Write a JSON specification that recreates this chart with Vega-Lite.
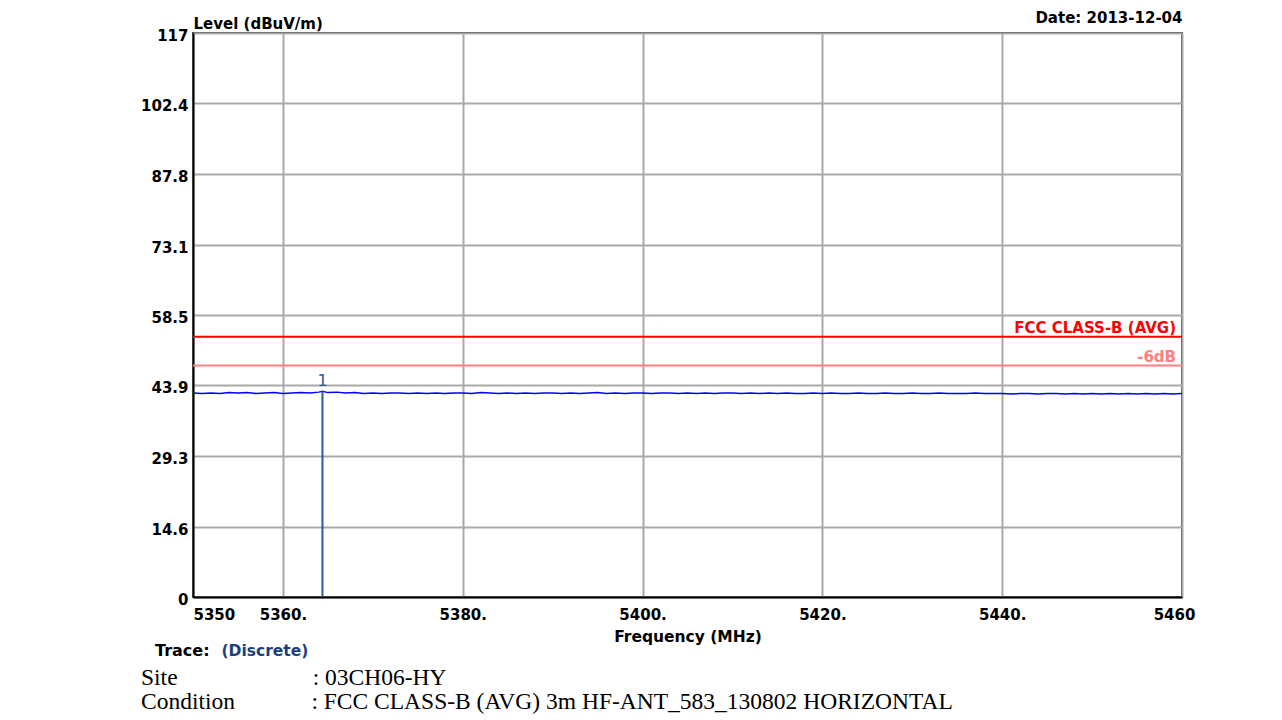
{
  "$schema": "https://vega.github.io/schema/vega-lite/v6.json",
  "width": 989,
  "height": 564,
  "autosize": {"type": "none"},
  "padding": {"left": 193, "top": 33, "right": 100, "bottom": 123},
  "background": "white",
  "config": {
    "view": {"stroke": "#404040", "strokeWidth": 2},
    "font": "DejaVu Sans"
  },
  "title": {
    "text": ["Site\u00a0\u00a0\u00a0\u00a0\u00a0\u00a0\u00a0\u00a0\u00a0\u00a0\u00a0\u00a0\u00a0\u00a0\u00a0\u00a0\u00a0\u00a0\u00a0\u00a0\u00a0\u00a0\u00a0: 03CH06-HY", "Condition\u00a0\u00a0\u00a0\u00a0\u00a0\u00a0\u00a0\u00a0\u00a0\u00a0\u00a0\u00a0\u00a0: FCC CLASS-B (AVG) 3m HF-ANT_583_130802 HORIZONTAL"],
    "orient": "bottom",
    "anchor": "start",
    "frame": "group",
    "dx": -52,
    "offset": 6,
    "font": "Liberation Serif",
    "fontSize": 23.5,
    "fontWeight": "normal",
    "color": "#000000",
    "lineHeight": 24
  },
  "datasets": {
    "trace": [
      {"freq": 5350, "level": 42.3}, {"freq": 5351, "level": 42.2}, {"freq": 5352, "level": 42.3}, {"freq": 5353, "level": 42.2},
      {"freq": 5354, "level": 42.4}, {"freq": 5355, "level": 42.3}, {"freq": 5356, "level": 42.4}, {"freq": 5357, "level": 42.2},
      {"freq": 5358, "level": 42.3}, {"freq": 5359, "level": 42.4}, {"freq": 5360, "level": 42.2}, {"freq": 5361, "level": 42.3},
      {"freq": 5362, "level": 42.4}, {"freq": 5363, "level": 42.3}, {"freq": 5364, "level": 42.5}, {"freq": 5364.4, "level": 42.7},
      {"freq": 5365, "level": 42.4}, {"freq": 5366, "level": 42.5}, {"freq": 5367, "level": 42.3}, {"freq": 5368, "level": 42.4},
      {"freq": 5369, "level": 42.2}, {"freq": 5370, "level": 42.3}, {"freq": 5371, "level": 42.2}, {"freq": 5372, "level": 42.3},
      {"freq": 5373, "level": 42.3}, {"freq": 5374, "level": 42.2}, {"freq": 5375, "level": 42.3}, {"freq": 5376, "level": 42.2},
      {"freq": 5377, "level": 42.3}, {"freq": 5378, "level": 42.2}, {"freq": 5379, "level": 42.3}, {"freq": 5380, "level": 42.3},
      {"freq": 5381, "level": 42.2}, {"freq": 5382, "level": 42.4}, {"freq": 5383, "level": 42.3}, {"freq": 5384, "level": 42.2},
      {"freq": 5385, "level": 42.3}, {"freq": 5386, "level": 42.2}, {"freq": 5387, "level": 42.3}, {"freq": 5388, "level": 42.2},
      {"freq": 5389, "level": 42.3}, {"freq": 5390, "level": 42.3}, {"freq": 5391, "level": 42.2}, {"freq": 5392, "level": 42.3},
      {"freq": 5393, "level": 42.2}, {"freq": 5394, "level": 42.3}, {"freq": 5395, "level": 42.4}, {"freq": 5396, "level": 42.2},
      {"freq": 5397, "level": 42.3}, {"freq": 5398, "level": 42.2}, {"freq": 5399, "level": 42.3}, {"freq": 5400, "level": 42.3},
      {"freq": 5401, "level": 42.2}, {"freq": 5402, "level": 42.3}, {"freq": 5403, "level": 42.3}, {"freq": 5404, "level": 42.2},
      {"freq": 5405, "level": 42.3}, {"freq": 5406, "level": 42.2}, {"freq": 5407, "level": 42.3}, {"freq": 5408, "level": 42.2},
      {"freq": 5409, "level": 42.3}, {"freq": 5410, "level": 42.3}, {"freq": 5411, "level": 42.2}, {"freq": 5412, "level": 42.3},
      {"freq": 5413, "level": 42.2}, {"freq": 5414, "level": 42.3}, {"freq": 5415, "level": 42.2}, {"freq": 5416, "level": 42.3},
      {"freq": 5417, "level": 42.2}, {"freq": 5418, "level": 42.2}, {"freq": 5419, "level": 42.3}, {"freq": 5420, "level": 42.2},
      {"freq": 5421, "level": 42.3}, {"freq": 5422, "level": 42.2}, {"freq": 5423, "level": 42.2}, {"freq": 5424, "level": 42.3},
      {"freq": 5425, "level": 42.2}, {"freq": 5426, "level": 42.2}, {"freq": 5427, "level": 42.3}, {"freq": 5428, "level": 42.2},
      {"freq": 5429, "level": 42.2}, {"freq": 5430, "level": 42.3}, {"freq": 5431, "level": 42.2}, {"freq": 5432, "level": 42.2},
      {"freq": 5433, "level": 42.3}, {"freq": 5434, "level": 42.2}, {"freq": 5435, "level": 42.2}, {"freq": 5436, "level": 42.2},
      {"freq": 5437, "level": 42.3}, {"freq": 5438, "level": 42.2}, {"freq": 5439, "level": 42.2}, {"freq": 5440, "level": 42.2},
      {"freq": 5441, "level": 42.1}, {"freq": 5442, "level": 42.2}, {"freq": 5443, "level": 42.2}, {"freq": 5444, "level": 42.1},
      {"freq": 5445, "level": 42.2}, {"freq": 5446, "level": 42.2}, {"freq": 5447, "level": 42.1}, {"freq": 5448, "level": 42.2},
      {"freq": 5449, "level": 42.1}, {"freq": 5450, "level": 42.2}, {"freq": 5451, "level": 42.1}, {"freq": 5452, "level": 42.2},
      {"freq": 5453, "level": 42.1}, {"freq": 5454, "level": 42.2}, {"freq": 5455, "level": 42.1}, {"freq": 5456, "level": 42.2},
      {"freq": 5457, "level": 42.1}, {"freq": 5458, "level": 42.2}, {"freq": 5459, "level": 42.1}, {"freq": 5460, "level": 42.2}
    ],
    "limits": [
      {"limit": "FCC CLASS-B (AVG)", "level": 54},
      {"limit": "-6dB", "level": 48}
    ],
    "markers": [
      {"marker": "1", "freq": 5364.4, "level": 42.7}
    ]
  },
  "resolve": {"axis": {"x": "independent"}},
  "layer": [
    {
      "data": {"name": "trace"},
      "mark": {"type": "line", "strokeWidth": 1.5, "clip": true},
      "encoding": {
        "x": {
          "field": "freq", "type": "quantitative",
          "scale": {"domain": [5350, 5460], "nice": false, "zero": false},
          "axis": {
            "orient": "bottom",
            "values": [5350, 5360, 5380, 5400, 5420, 5440, 5460],
            "labelExpr": "(datum.value == 5350 || datum.value == 5460) ? format(datum.value, 'd') : format(datum.value, 'd') + '.'",
            "labelAlign": {"condition": {"test": "datum.value == 5350", "value": "left"}, "value": "center"},
            "labelOffset": {"condition": {"test": "datum.value == 5460", "value": -8}, "value": 0},
            "labelFlush": false,
            "labelBaseline": "top",
            "labelPadding": 10,
            "labelFont": "DejaVu Sans", "labelFontSize": 15, "labelFontWeight": "bold", "labelColor": "#000000",
            "ticks": false, "tickSize": 0,
            "domain": true, "domainColor": "#000000", "domainWidth": 2,
            "grid": true, "gridColor": "#a9a9a9", "gridWidth": 2,
            "title": "Frequency (MHz)",
            "titleFont": "DejaVu Sans", "titleFontSize": 15.5, "titleFontWeight": "bold", "titleColor": "#000000",
            "titlePadding": 7
          }
        },
        "y": {
          "field": "level", "type": "quantitative",
          "scale": {"domain": [0, 117], "nice": false, "zero": true},
          "axis": {
            "values": [0, 14.6, 29.3, 43.9, 58.5, 73.1, 87.8, 102.4, 117],
            "labelExpr": "'' + datum.value",
            "labelFlush": false,
            "labelBaseline": "middle",
            "labelOffset": 2.5,
            "labelPadding": 5,
            "labelFont": "DejaVu Sans", "labelFontSize": 15, "labelFontWeight": "bold", "labelColor": "#000000",
            "ticks": false, "tickSize": 0,
            "domain": true, "domainColor": "#000000", "domainWidth": 2,
            "grid": true, "gridColor": "#a9a9a9", "gridWidth": 2,
            "title": "Level (dBuV/m)",
            "titleAngle": 0, "titleAlign": "left", "titleBaseline": "alphabetic",
            "titleX": 0, "titleY": -5,
            "titleFont": "DejaVu Sans", "titleFontSize": 15, "titleFontWeight": "bold", "titleColor": "#000000"
          }
        },
        "color": {
          "datum": "(Discrete)",
          "type": "nominal",
          "scale": {"range": ["#0000ff"]},
          "legend": {
            "title": "Trace:",
            "orient": "none",
            "legendX": -38,
            "legendY": 610,
            "direction": "horizontal",
            "titleOrient": "left",
            "titleFont": "DejaVu Sans", "titleFontSize": 16, "titleFontWeight": "bold", "titleColor": "#000000",
            "titleBaseline": "middle",
            "labelFont": "DejaVu Sans", "labelFontSize": 15.5, "labelFontWeight": "bold", "labelColor": "#1b3f7b",
            "symbolSize": 0, "symbolStrokeWidth": 0, "symbolOpacity": 0,
            "labelOffset": -9
          }
        }
      }
    },
    {
      "data": {"name": "limits"},
      "mark": {"type": "rule", "strokeWidth": 2},
      "encoding": {
        "y": {"field": "level", "type": "quantitative"},
        "stroke": {
          "field": "limit", "type": "nominal",
          "scale": {"domain": ["FCC CLASS-B (AVG)", "-6dB"], "range": ["#ff0000", "#ff8080"]},
          "legend": null
        }
      }
    },
    {
      "data": {"name": "limits"},
      "mark": {"type": "text", "align": "right", "baseline": "alphabetic", "dx": -6, "dy": -4, "font": "DejaVu Sans", "fontSize": 15, "fontWeight": "bold"},
      "encoding": {
        "x": {"datum": 5460, "type": "quantitative", "axis": null},
        "y": {"field": "level", "type": "quantitative"},
        "text": {"field": "limit"},
        "fill": {
          "field": "limit", "type": "nominal",
          "scale": {"domain": ["FCC CLASS-B (AVG)", "-6dB"], "range": ["#ff0000", "#ff8080"]},
          "legend": null
        }
      }
    },
    {
      "data": {"name": "markers"},
      "mark": {"type": "rule", "strokeWidth": 2, "color": "#2b5a97"},
      "encoding": {
        "x": {
          "field": "freq", "type": "quantitative",
          "axis": {
            "orient": "top", "labels": false, "ticks": false, "domain": false, "grid": false,
            "title": "Date: 2013-12-04",
            "titleAnchor": "end", "titleAlign": "right", "titleBaseline": "alphabetic",
            "titlePadding": 11,
            "titleFont": "DejaVu Sans", "titleFontSize": 15, "titleFontWeight": "bold", "titleColor": "#000000"
          }
        },
        "y": {"field": "level", "type": "quantitative"},
        "y2": {"datum": 0}
      }
    },
    {
      "data": {"name": "markers"},
      "mark": {"type": "text", "baseline": "alphabetic", "dy": -5, "font": "DejaVu Sans", "fontSize": 16, "color": "#2b5a97"},
      "encoding": {
        "x": {"field": "freq", "type": "quantitative", "axis": null},
        "y": {"field": "level", "type": "quantitative"},
        "text": {"field": "marker"}
      }
    }
  ]
}
